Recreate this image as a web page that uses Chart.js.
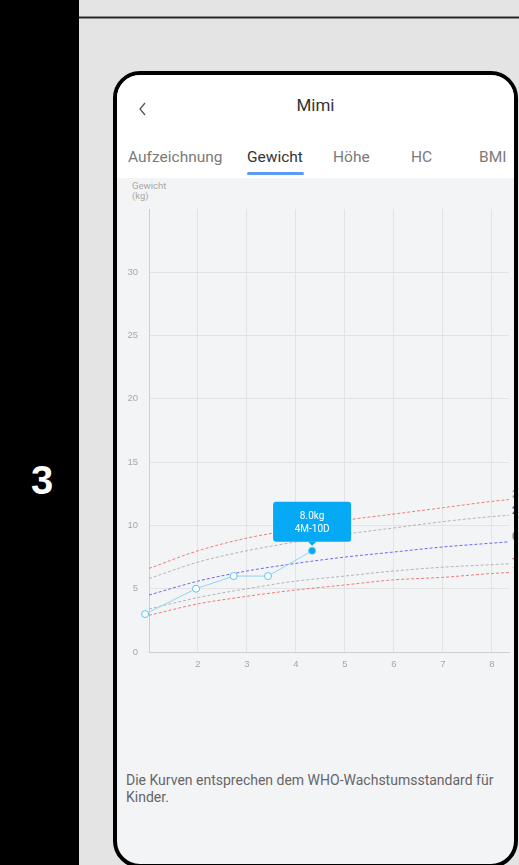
<!DOCTYPE html>
<html>
<head>
<meta charset="utf-8">
<script src="https://cdn.jsdelivr.net/npm/chart.js@4.4.1/dist/chart.umd.min.js"></script>
<style>
  html, body { margin: 0; padding: 0; }
  body {
    width: 519px; height: 865px; overflow: hidden; position: relative;
    background: #e4e4e4; font-family: Roboto, "Noto Sans", sans-serif;
  }
  #stepPanel {
    position: absolute; left: 0; top: 0; width: 79px; height: 865px; background: #000;
  }
  #stepNum {
    position: absolute; left: 0; width: 84px; top: 458px; text-align: center;
    color: #fff; font: bold 40px "Liberation Sans", Arial, sans-serif;
  }
  #topRule {
    position: absolute; left: 79px; top: 16px; width: 440px; height: 1px;
    background: #222; border-top: 1px solid #888; border-bottom: 1px solid #888;
  }
  #phone {
    position: absolute; left: 113px; top: 71px; width: 397px; height: 789px;
    border: 4px solid #000; border-radius: 27px; background: #f3f4f6; overflow: hidden;
  }
  #header { position: absolute; left: 0; top: 0; width: 100%; height: 103px; background: #fff; }
  #title {
    position: absolute; left: 0; width: 100%; top: 20px; text-align: center;
    font-size: 17px; color: #333;
  }
  #back { position: absolute; left: 21px; top: 26px; }
  .tab { position: absolute; top: 73px; font-size: 15.5px; line-height: 18px; color: #7a7a7a; }
  .tab.active { color: #333; }
  #tabLine {
    position: absolute; left: 130px; top: 97px; width: 57px; height: 3px;
    background: #5b9cf2; border-radius: 2px;
  }
  #yTitle {
    position: absolute; left: 15px; top: 106px; font-size: 9.5px; line-height: 10px; color: #a8a8a8;
  }
  #chartBox { position: absolute; left: 0; top: 103px; width: 397px; height: 502px; }
  #note {
    position: absolute; left: 9px; top: 697px; width: 385px;
    font-size: 14px; line-height: 17px; color: #666;
  }
</style>
</head>
<body>
<div id="stepPanel"><div id="stepNum">3</div></div>
<div id="topRule"></div>

<div id="phone">
  <div id="header">
    <div id="title">Mimi</div>
    <svg id="back" width="10" height="16" viewBox="0 0 10 16">
      <polyline points="7,2 2,8 7,14" fill="none" stroke="#555" stroke-width="1.3"/>
    </svg>
    <div class="tab" style="left:11px">Aufzeichnung</div>
    <div class="tab active" style="left:130px">Gewicht</div>
    <div class="tab" style="left:216px">Höhe</div>
    <div class="tab" style="left:294px">HC</div>
    <div class="tab" style="left:362px">BMI</div>
    <div id="tabLine"></div>
  </div>
  <div id="yTitle">Gewicht<br>(kg)</div>
  <div id="chartBox"><canvas id="weightChart"></canvas></div>
  <div id="note">Die Kurven entsprechen dem WHO-Wachstumsstandard für Kinder.</div>
</div>

<script>
// ============================================================
// Weight-for-age chart (months vs kg) with WHO reference curves.
// ============================================================

// Age in months for the WHO reference curves
const refMonths = [1, 2, 3, 4, 5, 6, 7, 8, 9];

// WHO reference curves (kg)
const sdPlus3  = [6.6, 8.0, 9.0, 9.7, 10.4, 10.9, 11.4, 11.9, 12.3];
const sdPlus2  = [5.8, 7.1, 8.0, 8.7, 9.3, 9.8, 10.3, 10.7, 11.0];
const median   = [4.5, 5.6, 6.4, 7.0, 7.5, 7.9, 8.3, 8.6, 8.9];
const sdMinus2 = [3.4, 4.3, 5.0, 5.6, 6.0, 6.4, 6.7, 6.9, 7.1];
const sdMinus3 = [2.9, 3.8, 4.4, 4.9, 5.3, 5.7, 5.9, 6.2, 6.4];

// Recorded measurements of the child
const ageMonths = [0.92, 1.96, 2.73, 3.43, 4.33];
const weightKg  = [3.0, 5.0, 6.0, 6.0, 8.0];

// Tooltip text for the last measurement
const tipLines = ["8.0kg", "4M-10D"];

// Axis tick values
const yTicks = [0, 5, 10, 15, 20, 25, 30];
const xTicks = [2, 3, 4, 5, 6, 7, 8];

// Zips x and y arrays into {x, y} points
function toPoints(xs, ys) {
  return xs.map(function (x, i) { return { x: x, y: ys[i] }; });
}

// Builds one dashed reference curve dataset
function refCurve(values, color, label, labelColor) {
  return {
    data: toPoints(refMonths, values),
    borderColor: color,
    borderWidth: 1,
    borderDash: [3, 2],
    pointRadius: 0,
    cubicInterpolationMode: "monotone",
    endLabel: label,
    endLabelColor: labelColor
  };
}

// Draws the small labels at the right end of each curve (mostly cut by the frame)
const endLabelPlugin = {
  id: "endLabels",
  afterDatasetsDraw: function (chart) {
    const ctx = chart.ctx;
    const xs = chart.scales.x;
    const ys = chart.scales.y;
    const xEnd = xs.getValueForPixel(chart.chartArea.right);
    ctx.save();
    ctx.font = "bold 10px Roboto";
    ctx.textBaseline = "middle";
    chart.data.datasets.forEach(function (ds) {
      if (!ds.endLabel) return;
      // interpolate the curve value at the right edge
      const pts = ds.data;
      const a = pts[pts.length - 2], b = pts[pts.length - 1];
      const v = a.y + (b.y - a.y) * (xEnd - a.x) / (b.x - a.x);
      ctx.fillStyle = ds.endLabelColor;
      ctx.fillText(ds.endLabel, chart.chartArea.right + 3, ys.getPixelForValue(v) - 4);
    });
    ctx.restore();
  }
};

// Draws the blue callout above the latest measurement
const calloutPlugin = {
  id: "callout",
  afterDatasetsDraw: function (chart) {
    const meta = chart.getDatasetMeta(0);
    const pt = meta.data[meta.data.length - 1];
    const ctx = chart.ctx;
    const w = 78, h = 40;
    const bottom = pt.y - 9;
    const left = pt.x - w / 2;
    ctx.save();
    ctx.fillStyle = "#06a9f4";
    ctx.beginPath();
    ctx.roundRect(left, bottom - h, w, h, 3);
    ctx.fill();
    ctx.beginPath();
    ctx.moveTo(pt.x - 4, bottom);
    ctx.lineTo(pt.x + 4, bottom);
    ctx.lineTo(pt.x, bottom + 4);
    ctx.closePath();
    ctx.fill();
    ctx.fillStyle = "#fff";
    ctx.font = "10px Roboto";
    ctx.textAlign = "center";
    ctx.textBaseline = "middle";
    ctx.fillText(tipLines[0], pt.x, bottom - 25);
    ctx.fillText(tipLines[1], pt.x, bottom - 12);
    ctx.restore();
  }
};

const lastIdx = weightKg.length - 1;

new Chart(document.getElementById("weightChart"), {
  type: "line",
  data: {
    datasets: [
      {
        data: toPoints(ageMonths, weightKg),
        borderColor: "#8fd6f4",
        borderWidth: 1,
        tension: 0,
        clip: false,
        pointRadius: 3.5,
        pointBorderWidth: 1,
        pointBorderColor: "#5cc4f0",
        pointBackgroundColor: weightKg.map(function (v, i) { return i === lastIdx ? "#06a9f4" : "#fff"; }),
        pointStyle: "circle"
      },
      refCurve(sdPlus3,  "#ef7b76", "3",  "#999"),
      refCurve(sdPlus2,  "#b4b4b4", "2",  "#4c4ce8"),
      refCurve(median,   "#6a6af0", "0",  "#888"),
      refCurve(sdMinus2, "#b4b4b4", "-2", "#e85050"),
      refCurve(sdMinus3, "#ef7b76", "-3", "#ccc")
    ]
  },
  options: {
    responsive: true,
    maintainAspectRatio: false,
    animation: false,
    layout: { padding: { top: 31, right: 5, left: 0, bottom: 0 } },
    plugins: { legend: { display: false }, tooltip: { enabled: false } },
    scales: {
      x: {
        type: "linear",
        min: 1,
        max: 8.35,
        afterFit: function (scale) { scale.height = 28; },
        afterBuildTicks: function (scale) {
          scale.ticks = [1].concat(xTicks).map(function (v) { return { value: v }; });
        },
        ticks: {
          padding: 7,
          color: "#a8a8a8",
          font: { size: 9.5 },
          maxRotation: 0,
          callback: function (v) { return v === 1 ? "" : v; }
        },
        grid: { color: "#e3e3e3", drawTicks: false },
        border: { color: "#cfcfcf" }
      },
      y: {
        min: 0,
        max: 35,
        afterFit: function (scale) { scale.width = 32; },
        afterBuildTicks: function (scale) {
          scale.ticks = yTicks.map(function (v) { return { value: v }; });
        },
        ticks: { padding: 11, color: "#a8a8a8", font: { size: 9.5 } },
        grid: { color: "#e3e3e3", drawTicks: false },
        border: { color: "#cfcfcf" }
      }
    }
  },
  plugins: [endLabelPlugin, calloutPlugin]
});
</script>
</body>
</html>
